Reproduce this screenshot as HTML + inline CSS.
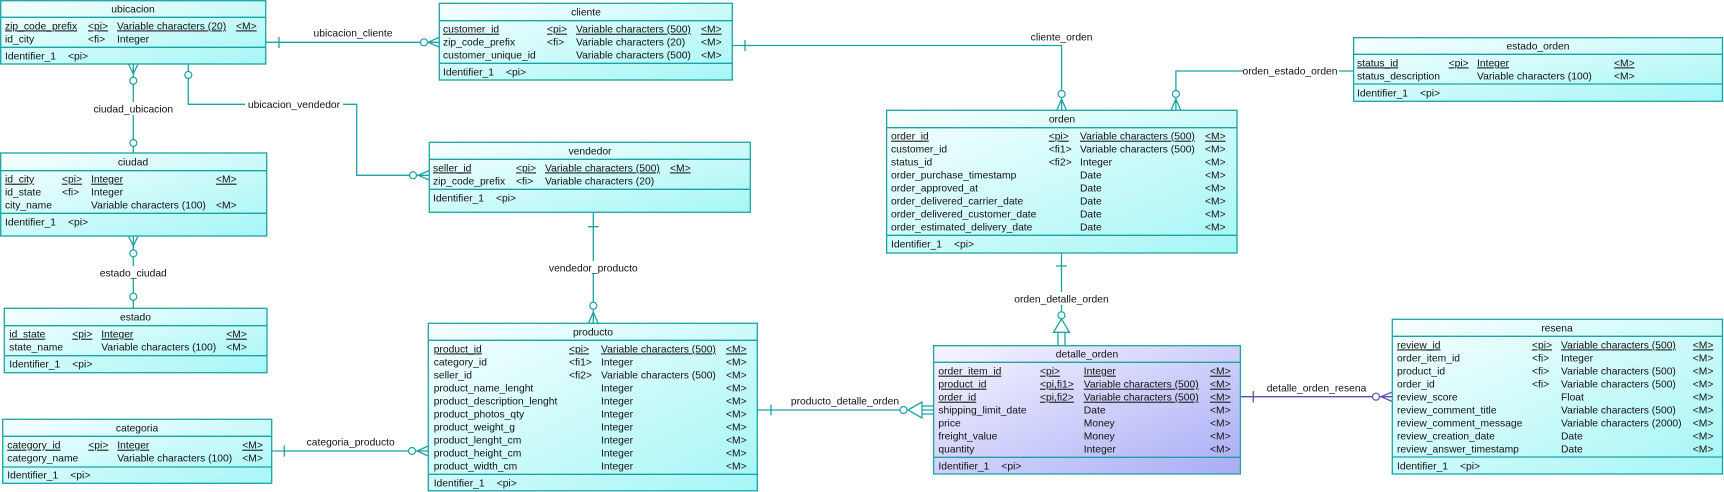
<!DOCTYPE html>
<html><head><meta charset="utf-8"><style>
html,body{margin:0;padding:0;background:#fff;}
svg{display:block;}
text{font-family:"Liberation Sans",Arial,sans-serif;font-size:10.3px;fill:#111;}
.u{text-decoration:underline;}
.t{text-anchor:middle;}
.b{fill:url(#g1);stroke:#1aa3a3;stroke-width:1.3;}
.p{fill:url(#g2);stroke:#1aa3a3;stroke-width:1.3;}
.l{stroke:#1aa3a3;stroke-width:1.3;}
.c{fill:none;stroke:#1aa3a3;stroke-width:1.3;}
.cp{fill:none;stroke:#5a50b8;stroke-width:1.3;}
.wc{fill:#fff;stroke:#1aa3a3;stroke-width:1.2;}
.wp{fill:#fff;stroke:#5a50b8;stroke-width:1.2;}
.lb{fill:#fff;stroke:none;}
</style></head><body>
<svg width="1724" height="492" viewBox="0 0 1724 492" xmlns="http://www.w3.org/2000/svg">
<defs>
<linearGradient id="g1" x1="0" y1="0" x2="1" y2="1"><stop offset="0" stop-color="#f7ffff"/><stop offset="1" stop-color="#a6f6f6"/></linearGradient>
<linearGradient id="g2" x1="0" y1="0" x2="1" y2="1"><stop offset="0" stop-color="#f6f6ff"/><stop offset="1" stop-color="#a9acf6"/></linearGradient>
</defs>

<!-- connectors -->
<!-- ubicacion_cliente -->
<path class="c" d="M266 42.3H439 M279 37V48 M428 42.3L439 37.5 M428 42.3L439 47 M428 42.3H439"/>
<circle class="wc" cx="424" cy="42.3" r="3.5"/>
<rect class="lb" x="313" y="26" width="80" height="12"/>
<text x="353" y="36.5" class="t">ubicacion_cliente</text>

<!-- ciudad_ubicacion -->
<path class="c" d="M133.3 64V153 M133.3 74L128.5 64 M133.3 74L138 64"/>
<circle class="wc" cx="133.3" cy="80.7" r="3.5"/>
<circle class="wc" cx="133.3" cy="143" r="3.5"/>
<rect class="lb" x="90" y="102" width="87" height="13"/>
<text x="133.3" y="112.5" class="t">ciudad_ubicacion</text>

<!-- ubicacion_vendedor -->
<path class="c" d="M188.3 64V104.3H356.7V175.3H429.3 M418 175.3L429.3 170.5 M418 175.3L429.3 180"/>
<circle class="wc" cx="188.3" cy="75" r="3.5"/>
<circle class="wc" cx="413" cy="175.3" r="3.5"/>
<rect class="lb" x="245" y="98" width="98" height="12"/>
<text x="294" y="107.8" class="t">ubicacion_vendedor</text>

<!-- estado_ciudad -->
<path class="c" d="M133.3 236V308.3 M133.3 246L128.5 236 M133.3 246L138 236"/>
<circle class="wc" cx="133.3" cy="253.3" r="3.5"/>
<circle class="wc" cx="133.3" cy="296.7" r="3.5"/>
<rect class="lb" x="98" y="266" width="72" height="13"/>
<text x="133.3" y="276.3" class="t">estado_ciudad</text>

<!-- categoria_producto -->
<path class="c" d="M271.7 451H428.3 M284.3 445.5V456.5 M417 451L428.3 446 M417 451L428.3 456"/>
<circle class="wc" cx="412" cy="451" r="3.5"/>
<text x="350.7" y="445.3" class="t">categoria_producto</text>

<!-- vendedor_producto -->
<path class="c" d="M593.3 212.3V323.3 M588 226.7H598.6 M593.3 312L588.5 323.3 M593.3 312L598 323.3"/>
<circle class="wc" cx="593.3" cy="305.7" r="3.5"/>
<rect class="lb" x="545" y="261" width="97" height="13"/>
<text x="593.3" y="271.3" class="t">vendedor_producto</text>

<!-- cliente_orden -->
<path class="c" d="M732.3 45.5H1061.6V110.3 M745 40V51 M1061.6 99L1056.8 110.3 M1061.6 99L1066.4 110.3"/>
<circle class="wc" cx="1061.6" cy="94" r="3.5"/>
<text x="1061.6" y="40.3" class="t">cliente_orden</text>

<!-- orden_estado_orden -->
<path class="c" d="M1353.6 71H1175.9V110.3 M1175.9 99L1171 110.3 M1175.9 99L1180.7 110.3"/>
<circle class="wc" cx="1175.9" cy="94" r="3.5"/>
<rect class="lb" x="1243" y="64" width="96" height="13"/>
<text x="1290" y="74.6" class="t">orden_estado_orden</text>

<!-- orden_detalle_orden -->
<path class="c" d="M1061.5 253V311.5 M1056 266H1067 M1061.5 319L1053.5 332.3H1069.5Z M1058 332.3V345.7 M1065 332.3V345.7"/>
<circle class="wc" cx="1061.5" cy="315.3" r="3.5"/>
<rect class="lb" x="1012" y="292" width="99" height="13"/>
<text x="1061.5" y="302.6" class="t">orden_detalle_orden</text>

<!-- producto_detalle_orden -->
<path class="c" d="M757.3 410H899.5 M771 404.5V415.5 M908 410L922 402V418Z M922 406H933.6 M922 410H933.6 M922 414H933.6"/>
<circle class="wc" cx="903.5" cy="410" r="3.5"/>
<text x="845" y="404.6" class="t">producto_detalle_orden</text>

<!-- detalle_orden_resena -->
<path class="cp" d="M1240.4 396.7H1392.3 M1253.3 391V402.5 M1381 396.7L1392.3 392 M1381 396.7L1392.3 401.5"/>
<circle class="wp" cx="1376" cy="396.7" r="3.5"/>
<text x="1316.5" y="391.3" class="t">detalle_orden_resena</text>

<!-- ubicacion -->
<rect class="b" x="0.7" y="0.7" width="265" height="63.3"/>
<line class="l" x1="0.7" y1="17.3" x2="265.7" y2="17.3"/>
<line class="l" x1="0.7" y1="47.3" x2="265.7" y2="47.3"/>
<text x="133" y="12.4" class="t">ubicacion</text>
<text x="5" y="29.4" class="u">zip_code_prefix</text><text x="88" y="29.4" class="u">&lt;pi&gt;</text><text x="117" y="29.4" class="u">Variable characters (20)</text><text x="236" y="29.4" class="u">&lt;M&gt;</text>
<text x="5" y="42.7">id_city</text><text x="88" y="42.7">&lt;fi&gt;</text><text x="117" y="42.7">Integer</text>
<text x="5" y="59.4">Identifier_1</text><text x="68" y="59.4">&lt;pi&gt;</text>

<!-- cliente -->
<rect class="b" x="439.3" y="3.3" width="293" height="76.7"/>
<line class="l" x1="439.3" y1="20.7" x2="732.3" y2="20.7"/>
<line class="l" x1="439.3" y1="63.3" x2="732.3" y2="63.3"/>
<text x="586" y="15.7" class="t">cliente</text>
<text x="443" y="32.7" class="u">customer_id</text><text x="547" y="32.7" class="u">&lt;pi&gt;</text><text x="576" y="32.7" class="u">Variable characters (500)</text><text x="701" y="32.7" class="u">&lt;M&gt;</text>
<text x="443" y="45.7">zip_code_prefix</text><text x="547" y="45.7">&lt;fi&gt;</text><text x="576" y="45.7">Variable characters (20)</text><text x="701" y="45.7">&lt;M&gt;</text>
<text x="443" y="58.7">customer_unique_id</text><text x="576" y="58.7">Variable characters (500)</text><text x="701" y="58.7">&lt;M&gt;</text>
<text x="443" y="75.4">Identifier_1</text><text x="506" y="75.4">&lt;pi&gt;</text>

<!-- ciudad -->
<rect class="b" x="0.7" y="153" width="266" height="83"/>
<line class="l" x1="0.7" y1="170.7" x2="266.7" y2="170.7"/>
<line class="l" x1="0.7" y1="213.3" x2="266.7" y2="213.3"/>
<text x="133" y="165.7" class="t">ciudad</text>
<text x="5" y="182.7" class="u">id_city</text><text x="62" y="182.7" class="u">&lt;pi&gt;</text><text x="91" y="182.7" class="u">Integer</text><text x="216" y="182.7" class="u">&lt;M&gt;</text>
<text x="5" y="195.7">id_state</text><text x="62" y="195.7">&lt;fi&gt;</text><text x="91" y="195.7">Integer</text>
<text x="5" y="208.7">city_name</text><text x="91" y="208.7">Variable characters (100)</text><text x="216" y="208.7">&lt;M&gt;</text>
<text x="5" y="225.4">Identifier_1</text><text x="68" y="225.4">&lt;pi&gt;</text>

<!-- vendedor -->
<rect class="b" x="429.3" y="142.3" width="321" height="70"/>
<line class="l" x1="429.3" y1="159.3" x2="750.3" y2="159.3"/>
<line class="l" x1="429.3" y1="189.3" x2="750.3" y2="189.3"/>
<text x="590" y="154.7" class="t">vendedor</text>
<text x="433" y="171.4" class="u">seller_id</text><text x="516" y="171.4" class="u">&lt;pi&gt;</text><text x="545" y="171.4" class="u">Variable characters (500)</text><text x="670" y="171.4" class="u">&lt;M&gt;</text>
<text x="433" y="184.4">zip_code_prefix</text><text x="516" y="184.4">&lt;fi&gt;</text><text x="545" y="184.4">Variable characters (20)</text>
<text x="433" y="201.7">Identifier_1</text><text x="496" y="201.7">&lt;pi&gt;</text>

<!-- estado -->
<rect class="b" x="4.3" y="308.3" width="262.7" height="64.4"/>
<line class="l" x1="4.3" y1="325.7" x2="267" y2="325.7"/>
<line class="l" x1="4.3" y1="355.7" x2="267" y2="355.7"/>
<text x="135.5" y="320.7" class="t">estado</text>
<text x="9.3" y="337.7" class="u">id_state</text><text x="72.3" y="337.7" class="u">&lt;pi&gt;</text><text x="101.3" y="337.7" class="u">Integer</text><text x="226.3" y="337.7" class="u">&lt;M&gt;</text>
<text x="9.3" y="350.4">state_name</text><text x="101.3" y="350.4">Variable characters (100)</text><text x="226.3" y="350.4">&lt;M&gt;</text>
<text x="9.3" y="367.4">Identifier_1</text><text x="72.3" y="367.4">&lt;pi&gt;</text>

<!-- categoria -->
<rect class="b" x="2.7" y="419.3" width="269" height="64"/>
<line class="l" x1="2.7" y1="436.3" x2="271.7" y2="436.3"/>
<line class="l" x1="2.7" y1="467" x2="271.7" y2="467"/>
<text x="137" y="431.7" class="t">categoria</text>
<text x="7.3" y="448.7" class="u">category_id</text><text x="88.3" y="448.7" class="u">&lt;pi&gt;</text><text x="117.3" y="448.7" class="u">Integer</text><text x="242.3" y="448.7" class="u">&lt;M&gt;</text>
<text x="7.3" y="461.7">category_name</text><text x="117.3" y="461.7">Variable characters (100)</text><text x="242.3" y="461.7">&lt;M&gt;</text>
<text x="7.3" y="478.7">Identifier_1</text><text x="70.3" y="478.7">&lt;pi&gt;</text>

<!-- producto -->
<rect class="b" x="428.3" y="323.3" width="329" height="167.5"/>
<line class="l" x1="428.3" y1="340.3" x2="757.3" y2="340.3"/>
<line class="l" x1="428.3" y1="474.3" x2="757.3" y2="474.3"/>
<text x="593" y="335.7" class="t">producto</text>
<text x="433.7" y="352.4" class="u">product_id</text><text x="569" y="352.4" class="u">&lt;pi&gt;</text><text x="601" y="352.4" class="u">Variable characters (500)</text><text x="726" y="352.4" class="u">&lt;M&gt;</text>
<text x="433.7" y="365.4">category_id</text><text x="569" y="365.4">&lt;fi1&gt;</text><text x="601" y="365.4">Integer</text><text x="726" y="365.4">&lt;M&gt;</text>
<text x="433.7" y="378.4">seller_id</text><text x="569" y="378.4">&lt;fi2&gt;</text><text x="601" y="378.4">Variable characters (500)</text><text x="726" y="378.4">&lt;M&gt;</text>
<text x="433.7" y="391.4">product_name_lenght</text><text x="601" y="391.4">Integer</text><text x="726" y="391.4">&lt;M&gt;</text>
<text x="433.7" y="404.4">product_description_lenght</text><text x="601" y="404.4">Integer</text><text x="726" y="404.4">&lt;M&gt;</text>
<text x="433.7" y="417.4">product_photos_qty</text><text x="601" y="417.4">Integer</text><text x="726" y="417.4">&lt;M&gt;</text>
<text x="433.7" y="430.4">product_weight_g</text><text x="601" y="430.4">Integer</text><text x="726" y="430.4">&lt;M&gt;</text>
<text x="433.7" y="443.4">product_lenght_cm</text><text x="601" y="443.4">Integer</text><text x="726" y="443.4">&lt;M&gt;</text>
<text x="433.7" y="456.4">product_height_cm</text><text x="601" y="456.4">Integer</text><text x="726" y="456.4">&lt;M&gt;</text>
<text x="433.7" y="469.4">product_width_cm</text><text x="601" y="469.4">Integer</text><text x="726" y="469.4">&lt;M&gt;</text>
<text x="433.7" y="486.4">Identifier_1</text><text x="496.7" y="486.4">&lt;pi&gt;</text>

<!-- orden -->
<rect class="b" x="886.6" y="110.3" width="350.4" height="142.7"/>
<line class="l" x1="886.6" y1="127.7" x2="1237" y2="127.7"/>
<line class="l" x1="886.6" y1="235.3" x2="1237" y2="235.3"/>
<text x="1062" y="122.7" class="t">orden</text>
<text x="891" y="139.7" class="u">order_id</text><text x="1048.7" y="139.7" class="u">&lt;pi&gt;</text><text x="1080" y="139.7" class="u">Variable characters (500)</text><text x="1205" y="139.7" class="u">&lt;M&gt;</text>
<text x="891" y="152.7">customer_id</text><text x="1048.7" y="152.7">&lt;fi1&gt;</text><text x="1080" y="152.7">Variable characters (500)</text><text x="1205" y="152.7">&lt;M&gt;</text>
<text x="891" y="165.7">status_id</text><text x="1048.7" y="165.7">&lt;fi2&gt;</text><text x="1080" y="165.7">Integer</text><text x="1205" y="165.7">&lt;M&gt;</text>
<text x="891" y="178.7">order_purchase_timestamp</text><text x="1080" y="178.7">Date</text><text x="1205" y="178.7">&lt;M&gt;</text>
<text x="891" y="191.7">order_approved_at</text><text x="1080" y="191.7">Date</text><text x="1205" y="191.7">&lt;M&gt;</text>
<text x="891" y="204.7">order_delivered_carrier_date</text><text x="1080" y="204.7">Date</text><text x="1205" y="204.7">&lt;M&gt;</text>
<text x="891" y="217.7">order_delivered_customer_date</text><text x="1080" y="217.7">Date</text><text x="1205" y="217.7">&lt;M&gt;</text>
<text x="891" y="230.7">order_estimated_delivery_date</text><text x="1080" y="230.7">Date</text><text x="1205" y="230.7">&lt;M&gt;</text>
<text x="891" y="247.7">Identifier_1</text><text x="954" y="247.7">&lt;pi&gt;</text>

<!-- estado_orden -->
<rect class="b" x="1353.6" y="37.7" width="368.9" height="63.6"/>
<line class="l" x1="1353.6" y1="54.3" x2="1722.5" y2="54.3"/>
<line class="l" x1="1353.6" y1="84" x2="1722.5" y2="84"/>
<text x="1538" y="49.7" class="t">estado_orden</text>
<text x="1357" y="66.4" class="u">status_id</text><text x="1448.6" y="66.4" class="u">&lt;pi&gt;</text><text x="1477" y="66.4" class="u">Integer</text><text x="1614" y="66.4" class="u">&lt;M&gt;</text>
<text x="1357" y="79.4">status_description</text><text x="1477" y="79.4">Variable characters (100)</text><text x="1614" y="79.4">&lt;M&gt;</text>
<text x="1357" y="96.4">Identifier_1</text><text x="1420" y="96.4">&lt;pi&gt;</text>

<!-- detalle_orden -->
<rect class="p" x="933.6" y="345.7" width="306.8" height="128.3"/>
<line class="l" x1="933.6" y1="362.3" x2="1240.4" y2="362.3"/>
<line class="l" x1="933.6" y1="457.3" x2="1240.4" y2="457.3"/>
<text x="1087" y="357.7" class="t">detalle_orden</text>
<text x="938.4" y="374.7" class="u">order_item_id</text><text x="1040" y="374.7" class="u">&lt;pi&gt;</text><text x="1083.8" y="374.7" class="u">Integer</text><text x="1210" y="374.7" class="u">&lt;M&gt;</text>
<text x="938.4" y="387.7" class="u">product_id</text><text x="1040" y="387.7" class="u">&lt;pi,fi1&gt;</text><text x="1083.8" y="387.7" class="u">Variable characters (500)</text><text x="1210" y="387.7" class="u">&lt;M&gt;</text>
<text x="938.4" y="400.7" class="u">order_id</text><text x="1040" y="400.7" class="u">&lt;pi,fi2&gt;</text><text x="1083.8" y="400.7" class="u">Variable characters (500)</text><text x="1210" y="400.7" class="u">&lt;M&gt;</text>
<text x="938.4" y="413.7">shipping_limit_date</text><text x="1083.8" y="413.7">Date</text><text x="1210" y="413.7">&lt;M&gt;</text>
<text x="938.4" y="426.7">price</text><text x="1083.8" y="426.7">Money</text><text x="1210" y="426.7">&lt;M&gt;</text>
<text x="938.4" y="439.7">freight_value</text><text x="1083.8" y="439.7">Money</text><text x="1210" y="439.7">&lt;M&gt;</text>
<text x="938.4" y="452.7">quantity</text><text x="1083.8" y="452.7">Integer</text><text x="1210" y="452.7">&lt;M&gt;</text>
<text x="938.4" y="469.4">Identifier_1</text><text x="1001.4" y="469.4">&lt;pi&gt;</text>

<!-- resena -->
<rect class="b" x="1392.3" y="319.3" width="330.2" height="154.7"/>
<line class="l" x1="1392.3" y1="336.3" x2="1722.5" y2="336.3"/>
<line class="l" x1="1392.3" y1="457" x2="1722.5" y2="457"/>
<text x="1557" y="331.7" class="t">resena</text>
<text x="1397" y="348.4" class="u">review_id</text><text x="1532" y="348.4" class="u">&lt;pi&gt;</text><text x="1561" y="348.4" class="u">Variable characters (500)</text><text x="1692.8" y="348.4" class="u">&lt;M&gt;</text>
<text x="1397" y="361.4">order_item_id</text><text x="1532" y="361.4">&lt;fi&gt;</text><text x="1561" y="361.4">Integer</text><text x="1692.8" y="361.4">&lt;M&gt;</text>
<text x="1397" y="374.4">product_id</text><text x="1532" y="374.4">&lt;fi&gt;</text><text x="1561" y="374.4">Variable characters (500)</text><text x="1692.8" y="374.4">&lt;M&gt;</text>
<text x="1397" y="387.4">order_id</text><text x="1532" y="387.4">&lt;fi&gt;</text><text x="1561" y="387.4">Variable characters (500)</text><text x="1692.8" y="387.4">&lt;M&gt;</text>
<text x="1397" y="400.4">review_score</text><text x="1561" y="400.4">Float</text><text x="1692.8" y="400.4">&lt;M&gt;</text>
<text x="1397" y="413.4">review_comment_title</text><text x="1561" y="413.4">Variable characters (500)</text><text x="1692.8" y="413.4">&lt;M&gt;</text>
<text x="1397" y="426.4">review_comment_message</text><text x="1561" y="426.4">Variable characters (2000)</text><text x="1692.8" y="426.4">&lt;M&gt;</text>
<text x="1397" y="439.4">review_creation_date</text><text x="1561" y="439.4">Date</text><text x="1692.8" y="439.4">&lt;M&gt;</text>
<text x="1397" y="452.4">review_answer_timestamp</text><text x="1561" y="452.4">Date</text><text x="1692.8" y="452.4">&lt;M&gt;</text>
<text x="1397" y="469.7">Identifier_1</text><text x="1460" y="469.7">&lt;pi&gt;</text>
</svg>
</body></html>
